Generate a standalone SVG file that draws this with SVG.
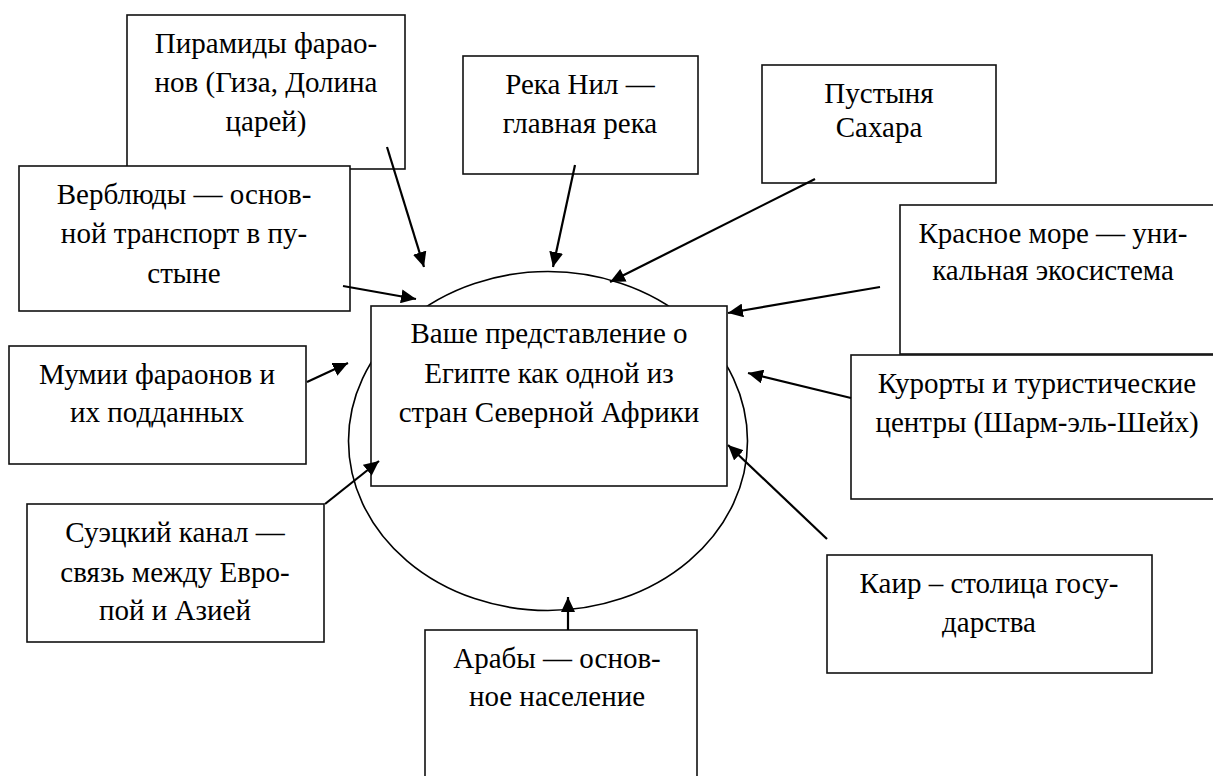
<svg xmlns="http://www.w3.org/2000/svg" width="1213" height="776" viewBox="0 0 1213 776">
<style>
.box{fill:#fff;stroke:#111;stroke-width:1.6}
.ell{fill:none;stroke:#000;stroke-width:1.6}
.t{font-family:"Liberation Serif","Times New Roman",serif;font-size:29px;fill:#000;text-anchor:middle}
.c{stroke:#000;stroke-width:2.2;fill:none;marker-end:url(#ah)}
</style>
<defs>
<marker id="ah" markerUnits="userSpaceOnUse" markerWidth="16" markerHeight="14" refX="15" refY="7" orient="auto">
<path d="M0,0 L15,7 L0,14 Z" fill="#000"/>
</marker>
</defs>
<rect width="1213" height="776" fill="#fff"/>
<g id="pyramids"><rect class="box" x="127" y="15" width="278" height="154"/>
<text class="t" x="266" y="53">Пирамиды фарао-</text><text class="t" x="266" y="92">нов (Гиза, Долина</text><text class="t" x="266" y="131">царей)</text></g>
<g id="camels"><rect class="box" x="19" y="166" width="331" height="145"/>
<text class="t" x="184" y="204">Верблюды — основ-</text><text class="t" x="184" y="243">ной транспорт в пу-</text><text class="t" x="184" y="283">стыне</text></g>
<g id="nile"><rect class="box" x="463" y="56" width="235" height="118"/>
<text class="t" x="580" y="94">Река Нил —</text><text class="t" x="580" y="133">главная река</text></g>
<g id="sahara"><rect class="box" x="762" y="65" width="234" height="118"/>
<text class="t" x="879" y="103">Пустыня</text><text class="t" x="879" y="137">Сахара</text></g>
<g id="redsea"><rect class="box" x="900" y="205" width="320" height="149"/>
<text class="t" x="1053" y="243">Красное море — уни-</text><text class="t" x="1053" y="280">кальная экосистема</text></g>
<g id="resorts"><rect class="box" x="851" y="355" width="370" height="144"/>
<text class="t" x="1037" y="393">Курорты и туристические</text><text class="t" x="1037" y="432">центры (Шарм-эль-Шейх)</text></g>
<g id="center"><ellipse class="ell" cx="548" cy="441" rx="199.5" ry="169.5"/>
<rect class="box" x="371" y="306" width="356" height="180"/>
<text class="t" x="549" y="343">Ваше представление о</text><text class="t" x="549" y="383">Египте как одной из</text><text class="t" x="549" y="422">стран Северной Африки</text></g>
<g id="mummies"><rect class="box" x="9" y="346" width="297" height="118"/>
<text class="t" x="157" y="384">Мумии фараонов и</text><text class="t" x="157" y="422">их подданных</text></g>
<g id="suez"><rect class="box" x="27" y="504" width="297" height="138"/>
<text class="t" x="175" y="542">Суэцкий канал —</text><text class="t" x="175" y="582">связь между Евро-</text><text class="t" x="175" y="620">пой и Азией</text></g>
<g id="arabs"><rect class="box" x="425" y="630" width="272" height="160"/>
<text class="t" x="557" y="668">Арабы — основ-</text><text class="t" x="557" y="706">ное население</text></g>
<g id="cairo"><rect class="box" x="827" y="555" width="325" height="118"/>
<text class="t" x="989" y="593">Каир – столица госу-</text><text class="t" x="989" y="632">дарства</text></g>
<g id="connectors">
<line class="c" x1="387" y1="147" x2="424" y2="267"/>
<line class="c" x1="343" y1="286" x2="416" y2="299"/>
<line class="c" x1="575" y1="165" x2="553" y2="267"/>
<line class="c" x1="815" y1="179" x2="610" y2="282"/>
<line class="c" x1="880" y1="287" x2="728" y2="313"/>
<line class="c" x1="851" y1="398" x2="748" y2="373"/>
<line class="c" x1="827" y1="539" x2="728" y2="445"/>
<line class="c" x1="568" y1="630" x2="568" y2="597"/>
<line class="c" x1="325" y1="504" x2="379" y2="461"/>
<line class="c" x1="307" y1="382" x2="348" y2="363"/>
</g>
</svg>
